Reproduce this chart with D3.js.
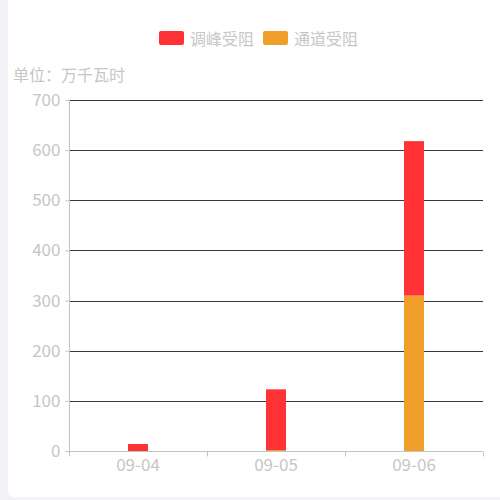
<!DOCTYPE html>
<html>
<head>
<meta charset="utf-8">
<script src="https://cdn.jsdelivr.net/npm/d3@7"></script>
<style>
  html, body { margin: 0; padding: 0; background: #f2f2f7; }
  #chart { width: 500px; height: 500px; }
  text { font-family: "Noto Sans CJK SC", "Noto Sans", sans-serif; }
</style>
</head>
<body>
<div id="chart"></div>
<script>
var width = 500,
    height = 500;

var categories = ["09-04", "09-05", "09-06"];
var peakValues = [14, 121, 308];     // 调峰受阻
var channelValues = [0, 2, 310];     // 通道受阻
var seriesNames = ["调峰受阻", "通道受阻"];
var seriesColors = ["#ff3336", "#f0a02a"];
var yTicks = [0, 100, 200, 300, 400, 500, 600, 700];

var margin = {top: 100, right: 17, bottom: 49, left: 69};

var svg = d3.select("#chart").append("svg")
    .attr("width", width)
    .attr("height", height);

// white card
svg.append("rect")
    .attr("x", 8).attr("y", -10)
    .attr("width", width).attr("height", 507)
    .attr("rx", 6)
    .style("fill", "#ffffff");

var x = d3.scaleBand()
    .domain(categories)
    .range([margin.left, width - margin.right]);

var y = d3.scaleLinear()
    .domain([0, 700])
    .range([height - margin.bottom, margin.top]);

// grid lines
svg.append("g")
    .selectAll("line")
    .data(yTicks.slice(1))
    .enter()
    .append("line")
    .attr("x1", margin.left)
    .attr("x2", width - margin.right)
    .attr("y1", function (d) { return Math.round(y(d)) + 0.5; })
    .attr("y2", function (d) { return Math.round(y(d)) + 0.5; })
    .style("stroke", "#2c3a4a")
    .style("stroke-width", 1);

// stacked bars
var stackData = categories.map(function (c, i) {
    return {cat: c, channel: channelValues[i], peak: peakValues[i]};
});
var stack = d3.stack().keys(["channel", "peak"]);
var layers = stack(stackData);
var layerColors = [seriesColors[1], seriesColors[0]];
var barWidth = 20;

svg.append("g")
    .selectAll("g")
    .data(layers)
    .enter()
    .append("g")
    .style("fill", function (d, i) { return layerColors[i]; })
    .selectAll("rect")
    .data(function (d) { return d; })
    .enter()
    .append("rect")
    .attr("x", function (d) { return x(d.data.cat) + x.bandwidth() / 2 - barWidth / 2; })
    .attr("width", barWidth)
    .attr("y", function (d) { return y(d[1]); })
    .attr("height", function (d) { return y(d[0]) - y(d[1]); });

// y axis
var yAxis = svg.append("g")
    .attr("transform", "translate(" + (margin.left + 0.5) + ",0)")
    .call(d3.axisLeft(y).tickValues(yTicks).tickSize(4).tickPadding(5));
yAxis.selectAll("line, path").style("stroke", "#c2c2c2");
yAxis.select(".domain").attr("d", "M0," + y(700) + "V" + (y(0) + 4));
yAxis.selectAll("text")
    .style("fill", "#c6c6c6")
    .style("font-size", "17px")
    .style("font-family", "'Noto Sans CJK SC', sans-serif");

// x axis
var xAxis = svg.append("g")
    .attr("transform", "translate(0," + (Math.round(y(0)) + 0.5) + ")")
    .call(d3.axisBottom(x).tickSize(0).tickPadding(7));
xAxis.select(".domain").style("stroke", "#c2c2c2").attr("d", "M" + margin.left + ",0H" + (width - margin.right));
xAxis.selectAll("text")
    .style("fill", "#c6c6c6")
    .style("font-size", "17px")
    .style("font-family", "'Noto Sans CJK SC', sans-serif");

var boundaries = categories.map(function (c) { return x(c); }).concat([width - margin.right]);
xAxis.selectAll(".bound")
    .data(boundaries)
    .enter()
    .append("line")
    .attr("class", "bound")
    .attr("x1", function (d) { return Math.round(d) + 0.5; })
    .attr("x2", function (d) { return Math.round(d) + 0.5; })
    .attr("y1", 0)
    .attr("y2", 5)
    .style("stroke", "#c2c2c2");

// unit label
svg.append("text")
    .attr("x", 13)
    .attr("y", 81)
    .attr("font-size", 16)
    .style("fill", "#c6c6c6")
    .text("单位：万千瓦时");

// legend
var legendX = [159, 263];
var legend = svg.selectAll(".legend")
    .data(seriesNames)
    .enter()
    .append("g")
    .attr("class", "legend")
    .attr("transform", function (d, i) { return "translate(" + legendX[i] + ",31)"; });
legend.append("rect")
    .attr("width", 25)
    .attr("height", 14)
    .attr("rx", 2)
    .style("fill", function (d, i) { return seriesColors[i]; });
legend.append("text")
    .attr("x", 31)
    .attr("y", 7)
    .attr("dominant-baseline", "central")
    .attr("font-size", 16)
    .style("fill", "#c6c6c6")
    .text(function (d) { return d; });
</script>
</body>
</html>
